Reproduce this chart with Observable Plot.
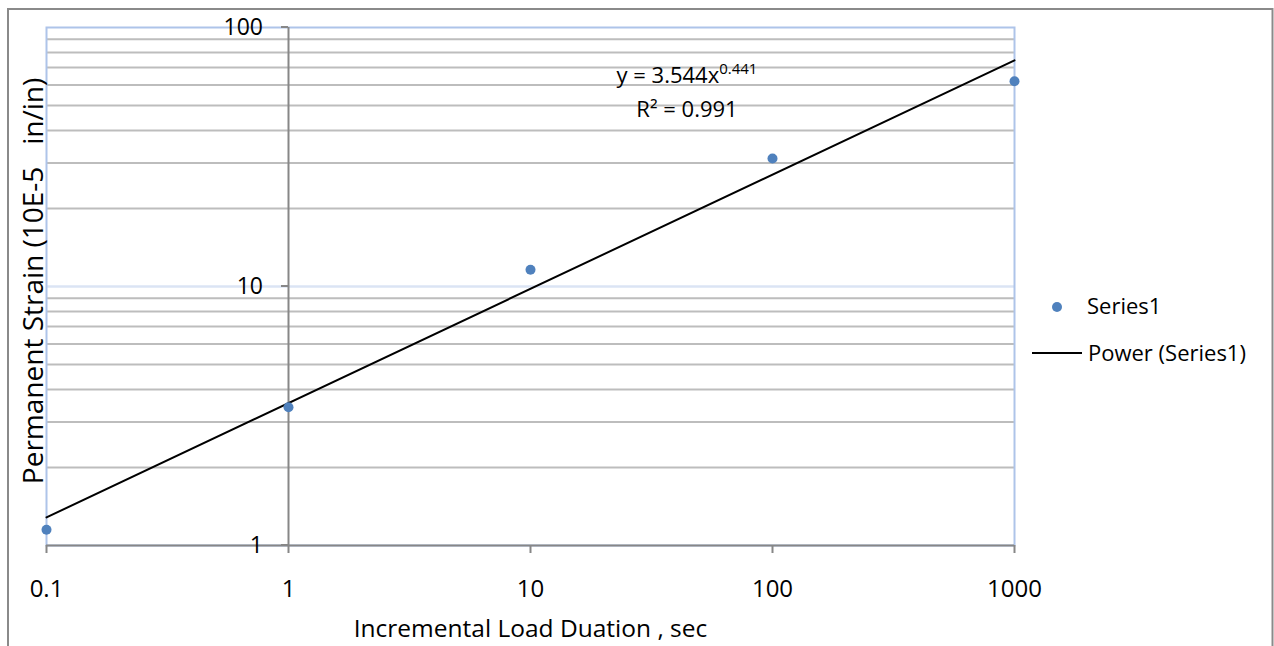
<!DOCTYPE html>
<html>
<head>
<meta charset="utf-8">
<script src="https://cdn.jsdelivr.net/npm/d3@7"></script>
<script src="https://cdn.jsdelivr.net/npm/@observablehq/plot@0.6"></script>
<style>
  html, body { margin: 0; padding: 0; background: #fff; }
  #chart { position: relative; width: 1274px; height: 646px; overflow: hidden; }
</style>
</head>
<body>
<div id="chart"></div>
<script>
// ---- data ----
const durations = [0.1, 1, 10, 100, 1000];
const strains = [1.15, 3.42, 11.6, 31.2, 62.0];
// power trendline y = 3.544 x^0.441 evaluated at the data range ends
const trendX = [0.1, 1000];
const trendY = [1.284, 74.7];
const xTicks = [0.1, 1, 10, 100, 1000];
const yMajor = [1, 10, 100];
const yMinor = [2, 3, 4, 5, 6, 7, 8, 9, 20, 30, 40, 50, 60, 70, 80, 90];
const xTitle = "Incremental Load Duation , sec";
const yTitle = "Permanent Strain (10E-5   in/in)";
const seriesName = "Series1";
const trendName = "Power (Series1)";
const eqMain = "y = 3.544x";
const eqExp = "0.441";
const r2Text = "R² = 0.991";

const points = durations.map((d, i) => ({x: d, y: strains[i]}));
const trend = trendX.map((d, i) => ({x: d, y: trendY[i]}));

const FONT = "'Open Sans', Lato, sans-serif";
const FS = 22;
const AXIS = "#878787";
const BLUE = "#4f81bd";

function yAxisMark(index, scales) {
  const g = d3.create("svg:g");
  const x0 = scales.x(1);
  for (const v of yMajor) {
    const y = scales.y(v);
    g.append("line").attr("x1", x0 - 7).attr("x2", x0).attr("y1", y).attr("y2", y)
      .attr("stroke", AXIS).attr("stroke-width", 2);
    g.append("text").attr("x", x0 - 25).attr("y", y).attr("dy", "0.36em")
      .attr("text-anchor", "end").attr("fill", "#000")
      .style("font-size", "23px").text(String(v));
  }
  return g.node();
}

function equationMark() {
  const g = d3.create("svg:g");
  const t1 = g.append("text").attr("x", 687).attr("y", 83).attr("text-anchor", "middle")
    .style("font-size", FS + "px").attr("fill", "#000");
  t1.append("tspan").text(eqMain);
  t1.append("tspan").attr("dy", -9).style("font-size", "15px").text(eqExp);
  g.append("text").attr("x", 687).attr("y", 117).attr("text-anchor", "middle")
    .style("font-size", FS + "px").attr("fill", "#000").text(r2Text);
  return g.node();
}

const chart = Plot.plot({
  width: 1274,
  height: 646,
  marginLeft: 46,
  marginRight: 260,
  marginTop: 27,
  marginBottom: 101,
  style: {fontFamily: FONT, fontSize: FS + "px", color: "#000", background: "#fff"},
  x: {type: "log", domain: [0.1, 1000], label: null},
  y: {type: "log", domain: [1, 100], label: null},
  marks: [
    Plot.ruleY(yMinor, {stroke: "#bdbdbd", strokeWidth: 2}),
    Plot.ruleY([10], {stroke: "#dbe4f4", strokeWidth: 2.5}),
    Plot.frame({stroke: "#aec4e9", strokeWidth: 2}),
    Plot.ruleX([1], {stroke: AXIS, strokeWidth: 2}),
    Plot.ruleY([1], {stroke: AXIS, strokeWidth: 2}),
    Plot.axisX({ticks: xTicks, tickFormat: d => String(d), tickSize: 8, tickPadding: 26,
      stroke: AXIS, strokeWidth: 2, fontSize: 24, fill: "#000"}),
    Plot.axisY({ticks: [], label: null}),
    yAxisMark,
    Plot.line(trend, {x: "x", y: "y", stroke: "#000", strokeWidth: 2}),
    Plot.dot(points, {x: "x", y: "y", r: 5, fill: BLUE, stroke: "none"}),
    equationMark,
    Plot.text([xTitle], {frameAnchor: "bottom", dy: 91, fontSize: 24.5, fill: "#000"})
  ]
});

const svg = d3.select(chart);
// outer chart border
svg.append("rect").attr("x", 8).attr("y", 9).attr("width", 1264.5).attr("height", 700)
  .attr("fill", "none").attr("stroke", "#8a8a8a").attr("stroke-width", 2);
// y axis title
svg.append("text").attr("transform", "translate(43,281) rotate(-90)")
  .attr("text-anchor", "middle").style("font-size", "28px").attr("fill", "#000")
  .attr("xml:space", "preserve").style("white-space", "pre").text(yTitle);
// legend
svg.append("circle").attr("cx", 1057).attr("cy", 307).attr("r", 5).attr("fill", BLUE);
svg.append("text").attr("x", 1087).attr("y", 314).attr("text-anchor", "start")
  .style("font-size", FS + "px").attr("fill", "#000").text(seriesName);
svg.append("line").attr("x1", 1032).attr("x2", 1082).attr("y1", 353).attr("y2", 353)
  .attr("stroke", "#000").attr("stroke-width", 2);
svg.append("text").attr("x", 1088).attr("y", 361).attr("text-anchor", "start")
  .style("font-size", FS + "px").attr("fill", "#000").text(trendName);

document.getElementById("chart").appendChild(chart);
</script>
</body>
</html>
